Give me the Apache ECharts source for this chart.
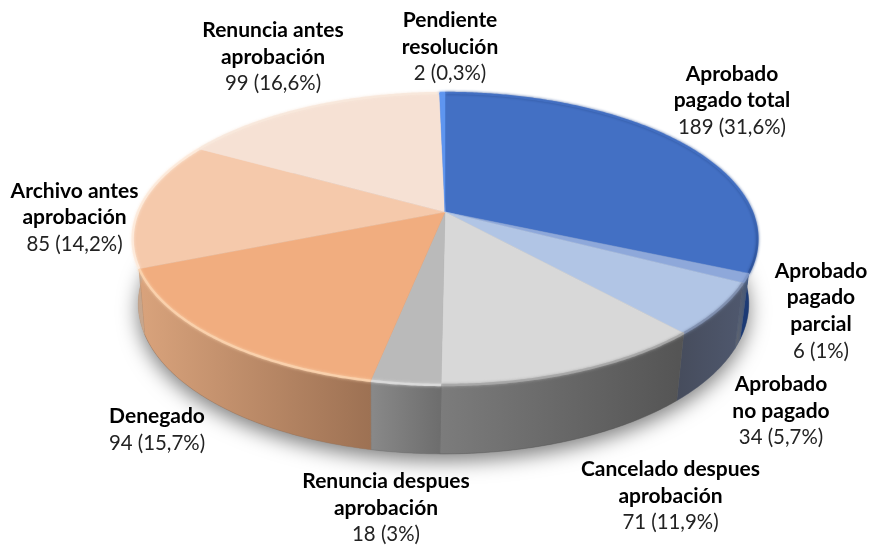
<!DOCTYPE html>
<html><head><meta charset="utf-8">
<style>html,body{margin:0;padding:0;background:#fff}#c{width:873px;height:545px}</style>
<script src="https://cdn.jsdelivr.net/npm/echarts@6/dist/echarts.min.js"></script>
</head><body><div id="c"></div>
<script>
const categories = ['Aprobado\npagado total','Aprobado\npagado\nparcial','Aprobado\nno pagado','Cancelado despues\naprobación','Renuncia despues\naprobación','Denegado','Archivo antes\naprobación','Renuncia antes\naprobación','Pendiente\nresolución'];
const values = [189,6,34,71,18,94,85,99,2];
const percentLabels = ['31,6%','1%','5,7%','11,9%','3%','15,7%','14,2%','16,6%','0,3%'];

// Styling and layout, kept apart from the data
const topColors = ['#4370c4','#8ea8da','#b1c5e5','#d8d8d8','#bababa','#f1ad7f','#f5c9ab','#f6e1d4','#5e95f0'];
const wallStops = [['#1d3f80','#1c3a74'],['#63666e','#3f5478'],['#464c5c','#4f586e'],['#7c7c7c','#545454'],['#898989','#6d6d6d'],['#d9a37c','#9d7153'],['#c4a68f','#d2a582'],['#ddd','#ddd'],['#3a6ab8','#3a6ab8']];
const rimColors = ['#3b66b4','#7d96c6','#7f8fae','#a6a6a6','#dcdcdc','#fbd3ae','#fdebdd','#f8e8dc','#5e95f0'];
const labelCenters = [[732,100.5],[821,311],[781,411],[670.5,496],[386,508],[157,430],[74.5,217.5],[273,57],[450,47]];
const upperPlane = {cx:445, cy:212, a:307, b:141, k:0.185};
const lowerPlane = {cx:443.5, cy:276, a:300, b:145, k:0.185};

function project(p, deg){
  const t = deg*Math.PI/180, x = Math.sin(t), y = -Math.cos(t), d = 1-p.k*y;
  return [p.cx+p.a*x/d, p.cy+p.b*y/d];
}
const total = values.reduce((s,v)=>s+v,0);
function range(i){
  let s=0; for(let j=0;j<i;j++) s+=values[j];
  return [s/total*360,(s+values[i])/total*360];
}
function arc(p,from,to){
  const pts=[], n=Math.max(2,Math.ceil((to-from)/0.5));
  for(let i=0;i<=n;i++) pts.push(project(p,from+(to-from)*i/n));
  return pts;
}
const rich = {
  b:{fontFamily:'Lato',fontSize:21,fontWeight:'bold',lineHeight:26.7,fill:'#000',color:'#000'},
  r:{fontFamily:'Lato',fontSize:20.4,lineHeight:26.7,fill:'#222',color:'#222'}
};
function wallItem(params, api){
  const i = params.dataIndex, [f,t] = range(i);
  const pts = arc(upperPlane,f,t).concat(arc(lowerPlane,f,t).reverse());
  const children = [];
  if(i===0) children.push({type:'polygon',shape:{points:arc(lowerPlane,0,360)},
    style:{fill:'#888',shadowBlur:20,shadowOffsetY:7,shadowColor:'rgba(0,0,0,0.5)'}});
  const g = new echarts.graphic.LinearGradient(0,0,1,0,[{offset:0,color:wallStops[i][0]},{offset:1,color:wallStops[i][1]}]);
  children.push({type:'polygon',shape:{points:pts},style:{fill:g,stroke:wallStops[i][1],lineWidth:0.4}});
  return {type:'group',children};
}
function topItem(params, api){
  const i = params.dataIndex, [f,t] = range(i);
  const apex=[upperPlane.cx,upperPlane.cy];
  const pts = [apex].concat(arc(upperPlane,f,t));
  const rim = i===0
    ? new echarts.graphic.LinearGradient(0,0,0,1,[{offset:0,color:topColors[0]},{offset:0.55,color:topColors[0]},{offset:1,color:'#2a4f96'}])
    : rimColors[i];
  return {type:'group',children:[
    {type:'polygon',shape:{points:pts},style:{fill:topColors[i],stroke:topColors[i],lineWidth:0.5}},
    {type:'polyline',shape:{points:arc(upperPlane,f,t)},style:{fill:'none',stroke:rim,lineWidth:2.4,opacity:0.9,shadowBlur:3,shadowColor:i===0?'#2a4f96':rimColors[i]}}
  ]};
}
function labelItem(params, api){
  const i = params.dataIndex;
  const lines = categories[i].split('\n').map(s=>'{b|'+s+'}');
  lines.push('{r|'+api.value(0)+' ('+percentLabels[i]+')}');
  return {type:'text',x:labelCenters[i][0],y:labelCenters[i][1],
    style:{text:lines.join('\n'),rich,align:'center',verticalAlign:'middle'}};
}
const chart = echarts.init(document.getElementById('c'),null,{renderer:'canvas'});
const seriesData = values.map(v=>[v]);
chart.setOption({
  animation:false,
  backgroundColor:'#fff',
  series:[
    {type:'custom',coordinateSystem:'none',renderItem:wallItem,data:seriesData,silent:true,z:1},
    {type:'custom',coordinateSystem:'none',renderItem:topItem,data:seriesData,silent:true,z:2},
    {type:'custom',coordinateSystem:'none',renderItem:labelItem,data:seriesData,silent:true,z:3}
  ]
});
</script></body></html>
